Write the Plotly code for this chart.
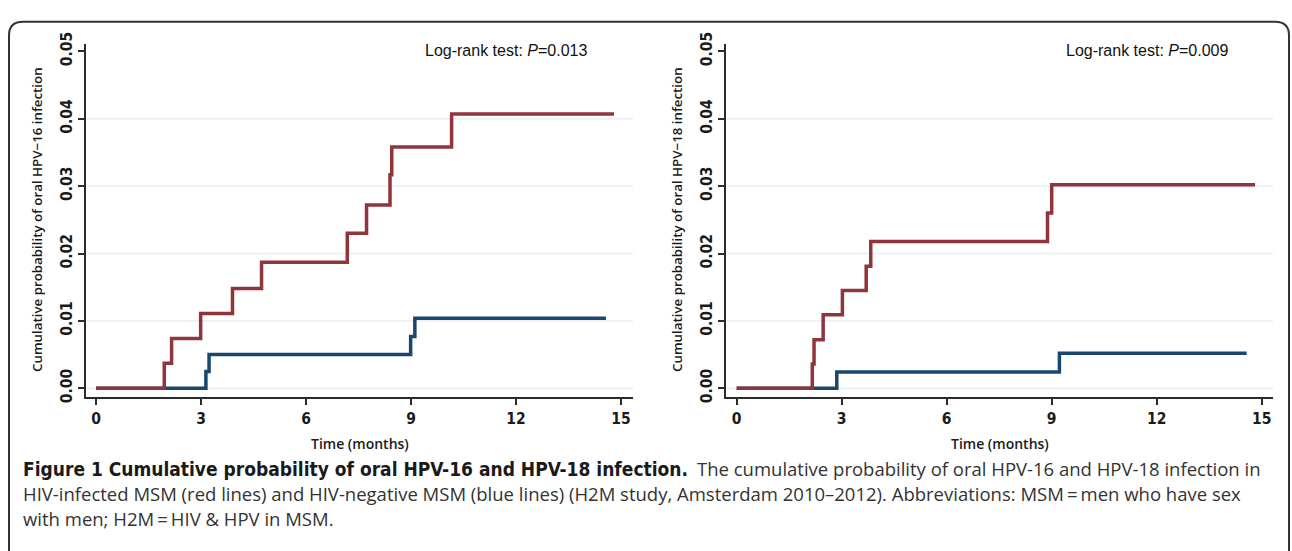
import plotly.graph_objects as go

W, H = 1292, 551

# ---- data ----
hpv16_hivpos_t = [0, 1.95, 2.16, 2.99, 3.90, 4.73, 7.18, 7.73, 8.40, 8.45, 10.16, 14.80]
hpv16_hivpos_p = [0, 0.0037, 0.0074, 0.0111, 0.0148, 0.0187, 0.0230, 0.0272, 0.0317, 0.0358, 0.0407, 0.0407]
hpv16_hivneg_t = [0, 3.14, 3.23, 8.99, 9.11, 14.57]
hpv16_hivneg_p = [0, 0.0025, 0.0050, 0.0077, 0.0104, 0.0104]

hpv18_hivpos_t = [0, 2.16, 2.21, 2.47, 3.02, 3.70, 3.83, 8.88, 9.00, 14.81]
hpv18_hivpos_p = [0, 0.0036, 0.0072, 0.0109, 0.0145, 0.0181, 0.0218, 0.0260, 0.0302, 0.0302]
hpv18_hivneg_t = [0, 2.86, 9.22, 14.57]
hpv18_hivneg_p = [0, 0.0024, 0.0052, 0.0052]

x_ticks = [0, 3, 6, 9, 12, 15]
y_ticks = [0, 0.01, 0.02, 0.03, 0.04, 0.05]
y_tick_text = ["0.00", "0.01", "0.02", "0.03", "0.04", "0.05"]
grid_values = [0, 0.01, 0.02, 0.03, 0.04]

ytitles = ["Cumulative probability of oral HPV\u221216 infection",
           "Cumulative probability of oral HPV\u221218 infection"]
pvalues = ["0.013", "0.009"]

RED = "#90353b"
BLUE = "#1a476f"
AXC = "#2b2b2b"
GRID = "#e6eef2"

def px(x):
    return x / W

def py(y):
    return 1 - y / H

fig = go.Figure()

# blue first, red on top
fig.add_trace(go.Scatter(x=hpv16_hivneg_t, y=hpv16_hivneg_p, mode="lines", line=dict(color=BLUE, width=3.5, shape="hv"),
                         xaxis="x", yaxis="y", showlegend=False))
fig.add_trace(go.Scatter(x=hpv16_hivpos_t, y=hpv16_hivpos_p, mode="lines", line=dict(color=RED, width=3.5, shape="hv"),
                         xaxis="x", yaxis="y", showlegend=False))
fig.add_trace(go.Scatter(x=hpv18_hivneg_t, y=hpv18_hivneg_p, mode="lines", line=dict(color=BLUE, width=3.5, shape="hv"),
                         xaxis="x2", yaxis="y2", showlegend=False))
fig.add_trace(go.Scatter(x=hpv18_hivpos_t, y=hpv18_hivpos_p, mode="lines", line=dict(color=RED, width=3.5, shape="hv"),
                         xaxis="x2", yaxis="y2", showlegend=False))

# pixel geometry
ytop_px, ybot_px = 33, 398
y0_px, y5_px = 389, 40.7
ppu = (y0_px - y5_px) / 0.05
yrange = [-(ybot_px - y0_px) / ppu, 0.05 + (y5_px - ytop_px) / ppu]
pxm = 35.0
panels = [  # axis-left px, zero px, axis-right px
    (86, 96, 633),
    (726, 736.7, 1273),
]

tickfont = dict(family="Liberation Sans Narrow, DejaVu Sans Condensed, Open Sans", size=15.5, color="#1a1a1a", weight="bold")
common_x = dict(showgrid=False, zeroline=False, showline=True, linecolor=AXC, linewidth=2,
                ticks="outside", ticklen=6, tickwidth=1.5, tickcolor=AXC,
                tickvals=x_ticks, ticktext=[str(v) for v in x_ticks], tickfont=tickfont, fixedrange=True)
common_y = dict(showgrid=False, zeroline=False, showline=True, linecolor=AXC, linewidth=2,
                ticks="outside", ticklen=6, tickwidth=1.5, tickcolor=AXC,
                tickvals=y_ticks, ticktext=y_tick_text, tickangle=-90, tickfont=tickfont,
                range=yrange, domain=[py(ybot_px), py(ytop_px)], fixedrange=True)

layout = dict(width=W, height=H, margin=dict(l=0, r=0, t=0, b=0),
              paper_bgcolor="white", plot_bgcolor="white", showlegend=False)
for i, (axl, zero, axr) in enumerate(panels):
    sfx = "" if i == 0 else str(i + 1)
    xr = [(axl - zero) / pxm, (axr - zero) / pxm]
    layout["xaxis" + sfx] = dict(common_x, range=xr, domain=[px(axl), px(axr)], anchor="y" + sfx)
    layout["yaxis" + sfx] = dict(common_y, anchor="x" + sfx)
fig.update_layout(**layout)

shapes = []
annotations = []
title_font = dict(family="Open Sans", size=13.3, color="#1a1a1a", weight=600)
for i, (axl, zero, axr) in enumerate(panels):
    sfx = "" if i == 0 else str(i + 1)
    for g in grid_values:
        shapes.append(dict(type="line", xref="x" + sfx + " domain", yref="y" + sfx, x0=0, x1=1, y0=g, y1=g,
                           line=dict(color=GRID, width=1.5), layer="below"))
    # y-axis title
    annotations.append(dict(xref="paper", yref="paper", x=px(axl - 49), y=py(215), text=ytitles[i],
                            textangle=-90, showarrow=False, xanchor="center", yanchor="middle",
                            font=title_font))
    # x-axis title (centred on the axis)
    annotations.append(dict(xref="paper", yref="paper", x=px((axl + axr) / 2), y=py(446), text="Time (months)",
                            showarrow=False, xanchor="center", yanchor="middle",
                            font=dict(title_font, size=14)))
    # log-rank
    annotations.append(dict(xref="paper", yref="paper", x=px(zero + 327), y=py(40), text="Log-rank test: <i>P</i>=" + pvalues[i],
                            showarrow=False, xanchor="left", yanchor="middle",
                            font=dict(family="Liberation Sans", size=16, color="#111111")))

# frame with rounded corners
r = 14
x0f, x1f, y0f, y1f = 9, 1289, 10, 570
path = (f"M {px(x0f)},{py(y1f)} L {px(x0f)},{py(y0f + r)} Q {px(x0f)},{py(y0f)} {px(x0f + r)},{py(y0f)} "
        f"L {px(x1f - r)},{py(y0f)} Q {px(x1f)},{py(y0f)} {px(x1f)},{py(y0f + r)} L {px(x1f)},{py(y1f)}")
shapes.append(dict(type="path", xref="paper", yref="paper", path=path, line=dict(color="#333333", width=2)))

cap_font = dict(family="Open Sans", size=18.5, color="#333333")
bold_font = dict(family="Liberation Sans Narrow, DejaVu Sans Condensed, Open Sans", size=19, color="#1a1a1a", weight="bold")
caption_bold = "Figure 1 Cumulative probability of oral HPV-16 and HPV-18 infection."
caption_rest = [
    "The cumulative probability of oral HPV-16 and HPV-18 infection in",
    "HIV-infected MSM (red lines) and HIV-negative MSM (blue lines) (H2M study, Amsterdam 2010\u20132012). Abbreviations: MSM\u2009=\u2009men who have sex",
    "with men; H2M\u2009=\u2009HIV &amp; HPV in MSM.",
]
cap_y = [472, 498, 524]
annotations.append(dict(xref="paper", yref="paper", x=px(21), y=py(cap_y[0]), text=caption_bold, showarrow=False,
                        xanchor="left", yanchor="middle", font=bold_font))
annotations.append(dict(xref="paper", yref="paper", x=px(1263), y=py(cap_y[0]), text=caption_rest[0], showarrow=False,
                        xanchor="right", yanchor="middle", font=cap_font))
for t, yy in zip(caption_rest[1:], cap_y[1:]):
    annotations.append(dict(xref="paper", yref="paper", x=px(21), y=py(yy), text=t, showarrow=False,
                            xanchor="left", yanchor="middle", font=cap_font))

fig.update_layout(shapes=shapes, annotations=annotations)
fig.write_html("out.html", config={"displayModeBar": False},
               post_script="document.body.style.margin='0';document.body.style.padding='0';")
